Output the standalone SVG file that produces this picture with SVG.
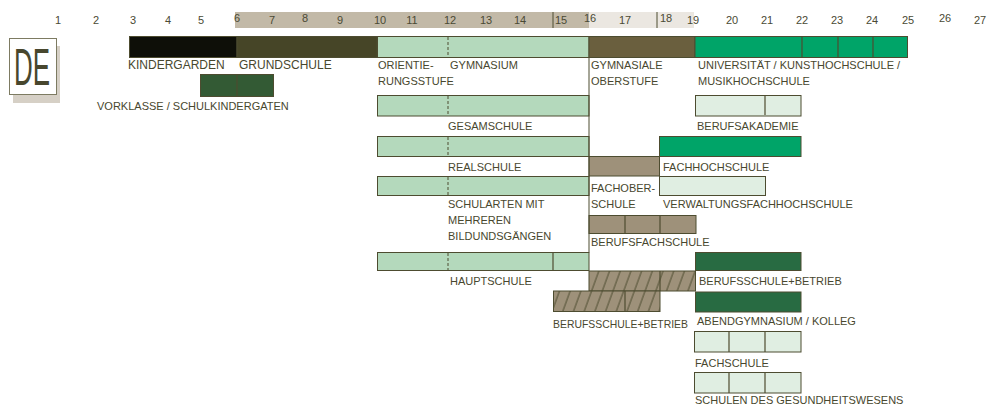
<svg xmlns="http://www.w3.org/2000/svg" width="987" height="405" viewBox="0 0 987 405">
<defs>
<style>
.t{font-family:"Liberation Sans",Arial,sans-serif;font-size:11px;fill:#48472e}
.tb{font-family:"Liberation Sans",Arial,sans-serif;font-size:12px;fill:#48472e}
.n{font-family:"Liberation Sans",Arial,sans-serif;font-size:11px;fill:#4a4a34;text-anchor:middle}
.b{stroke:#4d4c30;stroke-width:1}
.dv{stroke:#4d4c30;stroke-width:1.2}
.ds{stroke:#4d4c30;stroke-width:1;stroke-dasharray:3 2}
.lg{fill:#b4d9bc}
.vl{fill:#e0eee2}
.gr{fill:#00a468}
.dg{fill:#286b42}
.br{fill:#9e917a}
</style>
<pattern id="hatch" patternUnits="userSpaceOnUse" width="10.7" height="40" patternTransform="skewX(-20)">
<rect width="10.7" height="40" fill="#9e917a"/>
<line x1="2" y1="0" x2="2" y2="40" stroke="#4d4c30" stroke-width="1"/>
</pattern>
</defs>
<rect width="987" height="405" fill="#ffffff"/>

<g id="scale">
<rect x="235" y="12" width="354" height="16" fill="#c2b9a7"/>
<rect x="589" y="12" width="105" height="16" fill="#ebe7e1"/>
<line x1="553" y1="12" x2="553" y2="28" stroke="#4d4c30" stroke-width="1"/>
<line x1="657" y1="12" x2="657" y2="28" stroke="#4d4c30" stroke-width="1"/>
<text class="n" x="58" y="24">1</text>
<text class="n" x="96" y="24">2</text>
<text class="n" x="133" y="24">3</text>
<text class="n" x="168" y="24">4</text>
<text class="n" x="201" y="24">5</text>
<text class="n" x="237" y="22">6</text>
<text class="n" x="272" y="24">7</text>
<text class="n" x="305" y="22">8</text>
<text class="n" x="340" y="24">9</text>
<text class="n" x="380" y="24">10</text>
<text class="n" x="412" y="24">11</text>
<text class="n" x="450" y="24">12</text>
<text class="n" x="486" y="24">13</text>
<text class="n" x="520" y="24">14</text>
<text class="n" x="561" y="24">15</text>
<text class="n" x="590" y="22">16</text>
<text class="n" x="625" y="24">17</text>
<text class="n" x="666" y="22">18</text>
<text class="n" x="693" y="24">19</text>
<text class="n" x="732" y="24">20</text>
<text class="n" x="767" y="24">21</text>
<text class="n" x="802" y="24">22</text>
<text class="n" x="837" y="24">23</text>
<text class="n" x="872" y="24">24</text>
<text class="n" x="908" y="24">25</text>
<text class="n" x="945" y="22">26</text>
<text class="n" x="980" y="24">27</text>
</g>

<g id="de">
<rect x="13" y="46" width="47" height="57" fill="#d6d0c6"/>
<rect x="9.5" y="38.5" width="47" height="56" fill="#ffffff" stroke="#7d7b62" stroke-width="1"/>
<text x="14" y="85" font-family="'Liberation Sans',Arial,sans-serif" font-size="51" fill="#48472e" textLength="36" lengthAdjust="spacingAndGlyphs">DE</text>
</g>

<g id="kindergarden">
<rect x="129.5" y="36.5" width="107.5" height="21" fill="#0e0f08" class="b"/>
<text class="tb" x="128" y="69">KINDERGARDEN</text>
</g>
<g id="grundschule">
<rect x="237" y="36.5" width="140" height="21" fill="#464527" class="b"/>
<text class="tb" x="239" y="69">GRUNDSCHULE</text>
</g>
<g id="gymnasium">
<rect x="377.5" y="36.5" width="211.5" height="21" class="lg b"/>
<line x1="448" y1="37" x2="448" y2="57" class="ds"/>
<text class="t" x="378" y="69">ORIENTIE-</text>
<text class="t" x="378" y="85">RUNGSSTUFE</text>
<text class="t" x="450" y="69">GYMNASIUM</text>
</g>
<g id="oberstufe">
<rect x="589" y="36.5" width="106" height="21" fill="#6a5f3e" class="b"/>
<text class="t" x="591" y="69">GYMNASIALE</text>
<text class="t" x="591" y="85">OBERSTUFE</text>
</g>
<g id="universitaet">
<rect x="695" y="36.5" width="212.5" height="21" class="gr b"/>
<line x1="802" y1="37" x2="802" y2="57" class="dv"/>
<line x1="838" y1="37" x2="838" y2="57" class="dv"/>
<line x1="873" y1="37" x2="873" y2="57" class="dv"/>
<text class="t" x="698" y="69">UNIVERSITÄT / KUNSTHOCHSCHULE /</text>
<text class="t" x="698" y="85">MUSIKHOCHSCHULE</text>
</g>
<g id="vorklasse">
<rect x="200.5" y="74.5" width="73" height="22" fill="#335a34" class="b"/>
<line x1="237" y1="75" x2="237" y2="96" class="dv"/>
<text class="t" x="97" y="110">VORKLASSE / SCHULKINDERGATEN</text>
</g>
<g id="gesamtschule">
<rect x="377.5" y="95.5" width="211.5" height="20.5" class="lg b"/>
<line x1="448" y1="96" x2="448" y2="115" class="ds"/>
<text class="t" x="448" y="130">GESAMSCHULE</text>
</g>
<g id="berufsakademie">
<rect x="695.5" y="95.5" width="105.5" height="20.5" class="vl b"/>
<line x1="765" y1="96" x2="765" y2="115" class="dv"/>
<text class="t" x="697" y="130">BERUFSAKADEMIE</text>
</g>
<g id="realschule">
<rect x="377.5" y="136.5" width="211.5" height="20" class="lg b"/>
<line x1="448" y1="137" x2="448" y2="156" class="ds"/>
<text class="t" x="448" y="171">REALSCHULE</text>
</g>
<g id="fachhochschule">
<rect x="659.5" y="136.5" width="141.5" height="20" class="gr b"/>
<text class="t" x="663" y="171">FACHHOCHSCHULE</text>
</g>
<g id="fachoberschule">
<rect x="589" y="156.5" width="70.5" height="19.5" class="br b"/>
<text class="t" x="591" y="192">FACHOBER-</text>
<text class="t" x="591" y="208">SCHULE</text>
</g>
<g id="schularten">
<rect x="377.5" y="176.5" width="211.5" height="19" class="lg b"/>
<line x1="448" y1="177" x2="448" y2="195" class="ds"/>
<text class="t" x="448" y="208">SCHULARTEN MIT</text>
<text class="t" x="448" y="224">MEHREREN</text>
<text class="t" x="448" y="240">BILDUNDSGÄNGEN</text>
</g>
<g id="verwaltungsfachhochschule">
<rect x="659.5" y="176.5" width="106" height="19" class="vl b"/>
<text class="t" x="663" y="208">VERWALTUNGSFACHHOCHSCHULE</text>
</g>
<g id="berufsfachschule">
<rect x="589" y="215.5" width="107" height="18" class="br b"/>
<line x1="625" y1="216" x2="625" y2="233" class="dv"/>
<line x1="660" y1="216" x2="660" y2="233" class="dv"/>
<text class="t" x="591" y="246">BERUFSFACHSCHULE</text>
</g>
<g id="hauptschule">
<rect x="377.5" y="252.5" width="211.5" height="18" class="lg b"/>
<line x1="448" y1="253" x2="448" y2="270" class="ds"/>
<line x1="553" y1="253" x2="553" y2="270" class="dv"/>
<text class="t" x="450" y="285">HAUPTSCHULE</text>
</g>
<g id="berufsschule-betrieb-1">
<rect x="695.5" y="252.5" width="105.5" height="18" class="dg b"/>
<text class="t" x="699" y="285">BERUFSSCHULE+BETRIEB</text>
</g>
<g id="hatch-1">
<rect x="589" y="271" width="106.5" height="20" fill="url(#hatch)" class="b"/>
<line x1="660" y1="271" x2="660" y2="291" class="dv"/>
</g>
<g id="berufsschule-betrieb-2">
<rect x="553.5" y="291" width="106.5" height="20.5" fill="url(#hatch)" class="b"/>
<line x1="625" y1="291" x2="625" y2="311" class="dv"/>
<text class="t" x="553" y="328" textLength="135" lengthAdjust="spacingAndGlyphs">BERUFSSCHULE+BETRIEB</text>
</g>
<g id="abendgymnasium">
<rect x="695.5" y="292" width="105.5" height="20" class="dg b"/>
<text class="t" x="697" y="325">ABENDGYMNASIUM / KOLLEG</text>
</g>
<g id="fachschule">
<rect x="694.5" y="331.5" width="106.5" height="20.5" class="vl b"/>
<line x1="729" y1="332" x2="729" y2="352" class="dv"/>
<line x1="765" y1="332" x2="765" y2="352" class="dv"/>
<text class="t" x="695" y="367">FACHSCHULE</text>
</g>
<g id="gesundheitswesen">
<rect x="694.5" y="372.5" width="106.5" height="20.5" class="vl b"/>
<line x1="729" y1="373" x2="729" y2="393" class="dv"/>
<line x1="765" y1="373" x2="765" y2="393" class="dv"/>
<text class="t" x="695" y="404">SCHULEN DES GESUNDHEITSWESENS</text>
</g>

<g id="connectors">
<line x1="589" y1="57.5" x2="589" y2="252.5" stroke="#4d4c30" stroke-width="1"/>
</g>
</svg>
